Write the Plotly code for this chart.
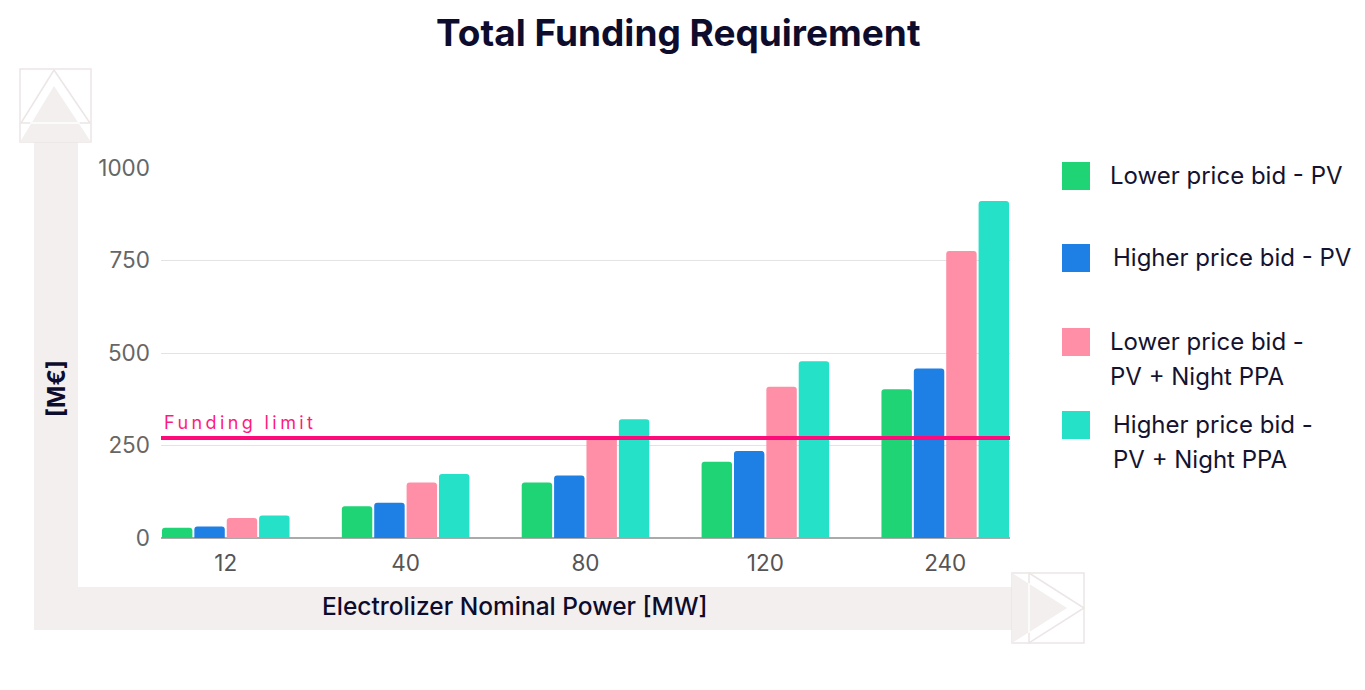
import plotly.graph_objects as go

# ---------------- data ----------------
categories = ["12", "40", "80", "120", "240"]
series_names = [
    "Lower price bid - PV",
    "Higher price bid - PV",
    "Lower price bid -<br>PV + Night PPA",
    "Higher price bid -<br>PV + Night PPA",
]
lower_pv = [28, 86, 150, 206, 402]
higher_pv = [31, 95, 169, 235, 458]
lower_pv_ppa = [54, 150, 276, 409, 776]
higher_pv_ppa = [61, 173, 321, 478, 911]
series_values = [lower_pv, higher_pv, lower_pv_ppa, higher_pv_ppa]
funding_limit = 270
y_ticks = [0, 250, 500, 750, 1000]

colors = ["#1ed474", "#1e7fe5", "#ff8fa7", "#25e1c8"]

# ---------------- geometry helpers (pixel -> paper) ----------------
W, H = 1365, 690
L, R, T, B = 161, 1010, 168, 538


def px(x):
    return (x - L) / (R - L)


def py(y):
    return (B - y) / (B - T)


fig = go.Figure()
for name, vals, c in zip(series_names, series_values, colors):
    fig.add_trace(go.Bar(
        x=categories, y=vals, name=name,
        marker=dict(color=c, cornerradius=3, line=dict(width=0)),
        showlegend=False, hoverinfo="y",
    ))

shapes = []
bg = "#f3efef"
edge = "#ece6e6"

# vertical arrow shaft and horizontal arrow shaft
shapes.append(dict(type="rect", xref="paper", yref="paper", layer="below",
                   x0=px(34), x1=px(78), y0=py(141), y1=py(630),
                   fillcolor=bg, line=dict(width=0)))
shapes.append(dict(type="rect", xref="paper", yref="paper", layer="below",
                   x0=px(34), x1=px(1013), y0=py(587), y1=py(630),
                   fillcolor=bg, line=dict(width=0)))


def path(points, close=True):
    s = "M " + " L ".join(f"{px(x)},{py(y)}" for x, y in points)
    return s + (" Z" if close else "")


# vertical arrow head: outline box, outline chevron, fill, white line
shapes.append(dict(type="rect", xref="paper", yref="paper", layer="below",
                   x0=px(20), x1=px(91), y0=py(142), y1=py(69),
                   line=dict(color=edge, width=1.5)))
shapes.append(dict(type="path", xref="paper", yref="paper", layer="below",
                   path=path([(54, 70), (21, 123), (90, 123)]),
                   line=dict(color=edge, width=1.5)))
shapes.append(dict(type="path", xref="paper", yref="paper", layer="below",
                   path=path([(54, 86), (20, 142), (91, 142)]),
                   fillcolor=bg, line=dict(width=0)))
shapes.append(dict(type="line", xref="paper", yref="paper", layer="below",
                   x0=px(30), x1=px(80), y0=py(123), y1=py(123),
                   line=dict(color="white", width=1.5)))

# horizontal arrow head
shapes.append(dict(type="rect", xref="paper", yref="paper", layer="below",
                   x0=px(1012), x1=px(1084), y0=py(643), y1=py(573),
                   line=dict(color=edge, width=1.5)))
shapes.append(dict(type="path", xref="paper", yref="paper", layer="below",
                   path=path([(1029, 573), (1084, 608), (1029, 643)]),
                   line=dict(color=edge, width=1.5)))
shapes.append(dict(type="path", xref="paper", yref="paper", layer="below",
                   path=path([(1012, 573), (1067, 608), (1012, 643)]),
                   fillcolor=bg, line=dict(width=0)))
shapes.append(dict(type="line", xref="paper", yref="paper", layer="below",
                   x0=px(1029), x1=px(1029), y0=py(583), y1=py(633),
                   line=dict(color="white", width=1.5)))

# funding limit line
shapes.append(dict(type="line", xref="paper", yref="y", layer="above",
                   x0=0, x1=1, y0=funding_limit, y1=funding_limit,
                   line=dict(color="#ff0a7b", width=4)))

annotations = []
# title
annotations.append(dict(text="<b>Total Funding Requirement</b>", xref="paper", yref="paper",
                        x=px(678), y=py(33), showarrow=False, xanchor="center", yanchor="middle",
                        font=dict(family="Inter", size=37, color="#0e0c2c")))
# axis titles
annotations.append(dict(text="Electrolizer Nominal Power [MW]", xref="paper", yref="paper",
                        x=px(515), y=py(606), showarrow=False, xanchor="center", yanchor="middle",
                        font=dict(family="Inter", size=24.5, color="#0e0c2c", weight=500)))
annotations.append(dict(text="<b>[M€]</b>", xref="paper", yref="paper", textangle=-90,
                        x=px(56), y=py(389), showarrow=False, xanchor="center", yanchor="middle",
                        font=dict(family="Inter", size=24, color="#0e0c2c")))
# funding limit label
annotations.append(dict(text='<span style="letter-spacing:3.4px">Funding limit</span>',
                        xref="paper", yref="y", x=px(162), y=funding_limit, yshift=3,
                        showarrow=False, xanchor="left", yanchor="bottom",
                        font=dict(family="Inter", size=18, color="#ff1a80")))

# custom legend
leg_marker_y = [176, 258, 342, 425]
leg_text_x = [1108, 1111, 1108, 1111]
for i, (name, c) in enumerate(zip(series_names, colors)):
    cy = leg_marker_y[i]
    shapes.append(dict(type="rect", xref="paper", yref="paper",
                       x0=px(1062), x1=px(1090), y0=py(cy + 14), y1=py(cy - 14),
                       fillcolor=c, line=dict(width=0)))
    for j, line in enumerate(name.split("<br>")):
        annotations.append(dict(text=line, xref="paper", yref="paper",
                                x=px(leg_text_x[i]), y=py(cy - 1 + j * 35), showarrow=False,
                                xanchor="left", yanchor="middle",
                                font=dict(family="Inter", size=24, color="#15132f")))

fig.update_layout(
    width=W, height=H,
    margin=dict(l=L, r=W - R, t=T, b=H - B, pad=0),
    paper_bgcolor="white", plot_bgcolor="rgba(0,0,0,0)",
    barmode="group", bargap=0.28, bargroupgap=0.06,
    shapes=shapes, annotations=annotations,
    showlegend=False,
    font=dict(family="Inter"),
)
fig.update_xaxes(type="category", range=[-0.36, 4.36], showgrid=False, showline=False,
                 ticks="", ticklabelstandoff=9,
                 tickfont=dict(family="Inter", size=22.5, color="#555555"))
fig.update_yaxes(range=[0, 1000], tickvals=y_ticks, ticktext=[str(v) for v in y_ticks],
                 showgrid=True, gridcolor="#e3e3e3", gridwidth=1.2,
                 zeroline=True, zerolinecolor="#aaaaaa", zerolinewidth=1.5,
                 showline=False, ticks="", ticklabelstandoff=10,
                 tickfont=dict(family="Inter", size=22.5, color="#666666"))

fig.write_html("out.html")
